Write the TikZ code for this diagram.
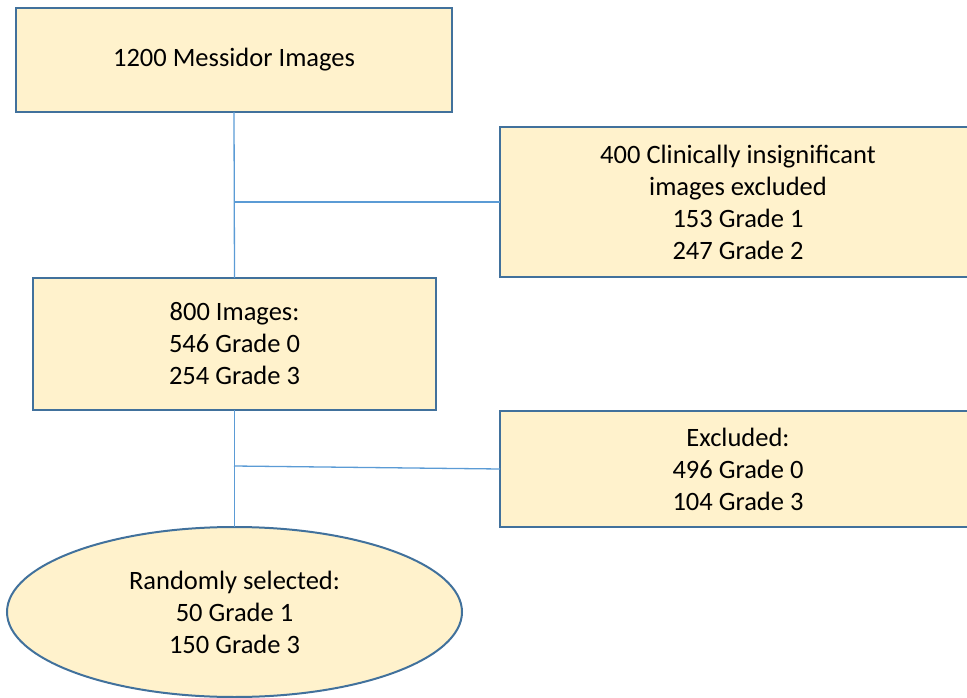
\documentclass[tikz,border=0pt]{standalone}
\usepackage{fontspec}
\setmainfont{Carlito}
\usetikzlibrary{shapes.geometric}
\definecolor{boxfill}{HTML}{FFF2CC}
\definecolor{boxline}{HTML}{41719C}
\definecolor{connline}{HTML}{5B9BD5}
\tikzset{
  stepbox/.style={draw=boxline, fill=boxfill, line width=2pt, rectangle,
    inner sep=0pt, outer sep=0pt, align=center,
    font=\fontsize{26.5}{32}\selectfont},
  ellbox/.style={stepbox, ellipse},
  conn/.style={draw=connline, line width=1.3pt}
}
\begin{document}
\begin{tikzpicture}[x=1pt, y=-1pt]
\useasboundingbox (0,0) rectangle (967,698);
\clip (0,0) rectangle (967,698);
\node[stepbox, minimum width=436pt, minimum height=104pt] (top) at (234,60) {1200 Messidor Images};
\node[stepbox, minimum width=403pt, minimum height=132pt] (mid) at (234.5,344) {800 Images:\\546 Grade 0\\254 Grade 3};
\node[stepbox, minimum width=476pt, minimum height=150pt] (ex1) at (738,202) {400 Clinically insignificant\\images excluded\\153 Grade 1\\247 Grade 2};
\node[stepbox, minimum width=476pt, minimum height=116pt] (ex2) at (738,469) {Excluded:\\496 Grade 0\\104 Grade 3};
\node[ellbox, minimum width=455pt, minimum height=170pt] (ell) at (234.5,612) {Randomly selected:\\50 Grade 1\\150 Grade 3};
\coordinate (j1) at (top.south |- ex1.west);
\coordinate (j2) at (234,466);
\draw[conn] (top.south) -- (mid.north);
\draw[conn] (j1) -- (ex1.west);
\draw[conn] (mid.south) -- (ell.north);
\draw[conn] (j2) -- (ex2.west);
\end{tikzpicture}
\end{document}
